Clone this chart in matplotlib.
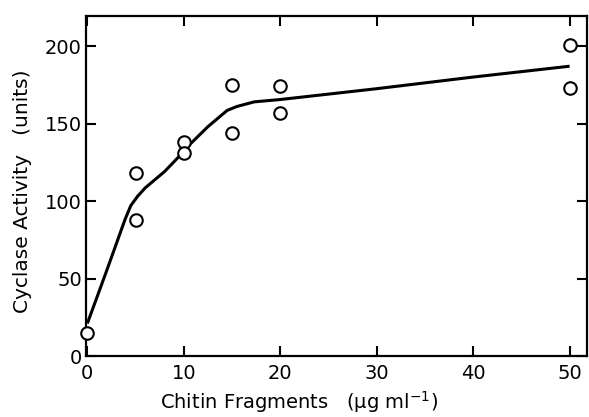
import matplotlib
matplotlib.use("Agg")
import matplotlib.pyplot as plt

# Data points (chitin fragments, cyclase activity)
point_x = [0, 5, 5, 10, 10, 15, 15, 20, 20, 50, 50]
point_y = [15, 118, 88, 138, 131, 175, 144, 174, 157, 201, 173]

# Fitted curve
curve_x = [0, 2, 3.9, 4.5, 5.2, 6, 8, 9.7, 10.7, 12.5, 14.5, 15.5, 17.3, 20, 30, 40, 50]
curve_y = [21, 55, 88, 97, 103, 108.5, 119, 130, 137, 148, 158.5, 161, 164, 165.5, 172.5, 180, 187]

x_ticks = [0, 10, 20, 30, 40, 50]
y_ticks = [0, 50, 100, 150, 200]

plt.rcParams['font.family'] = ['DejaVu Sans']

fig = plt.figure(figsize=(5.89, 4.17), dpi=100)
ax = fig.add_axes([86/589, 61/417, 501/589, 340/417])

ax.plot(curve_x, curve_y, color='black', lw=2.2, solid_capstyle='butt', clip_on=False, zorder=2)
ax.plot(point_x, point_y, 'o', ms=9, mfc='white', mec='black', mew=1.5, clip_on=False, zorder=3)

ax.set_xlim(-0.14, 51.8)
ax.set_ylim(0, 219.4)
ax.set_xticks(x_ticks)
ax.set_yticks(y_ticks)

for s in ax.spines.values():
    s.set_linewidth(1.6)

ax.tick_params(direction='in', length=7, width=1.5, top=True, right=True,
               labelsize=14)
ax.tick_params(axis='x', pad=6)
ax.tick_params(axis='y', pad=3)

ax.set_xlabel('Chitin Fragments   (µg ml$^{-1}$)', fontsize=14)
ax.xaxis.set_label_coords(299.5/589, 2/417, transform=fig.transFigure)
ax.xaxis.label.set_va('bottom')
ax.set_ylabel('Cyclase Activity   (units)', fontsize=14.5)
ax.yaxis.set_label_coords(-0.108, 0.485)

fig.savefig('out.png', dpi=100)
